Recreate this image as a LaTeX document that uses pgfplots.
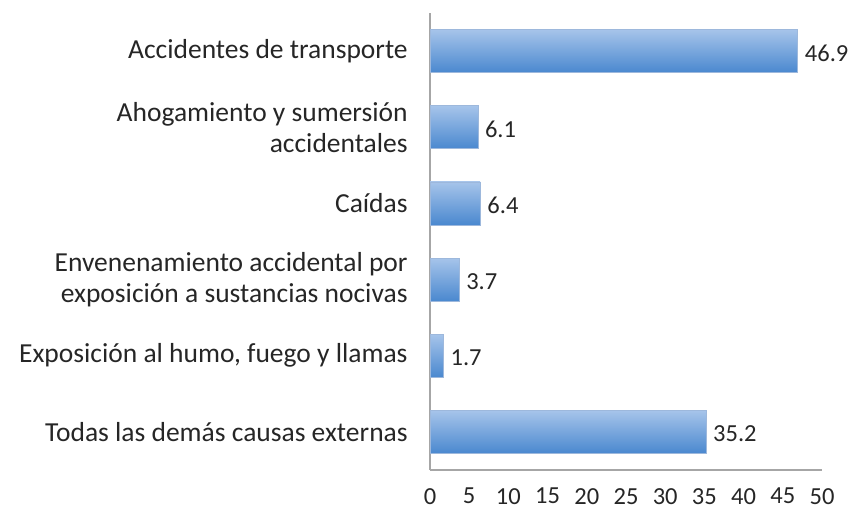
\documentclass[border=0pt]{standalone}
\usepackage{fontspec}
\setmainfont{Carlito}
\usepackage{pgfplots}
\pgfplotsset{compat=1.18}
\definecolor{barTop}{HTML}{A6C4EA}
\definecolor{barBot}{HTML}{4A88CF}
\definecolor{barEdge}{HTML}{9DB8DC}
\definecolor{txt}{HTML}{262626}
\definecolor{axc}{HTML}{A6A6A6}
\pgfplotsset{mybar/.style={draw=barEdge, line width=0.5pt, top color=barTop, bottom color=barBot, bar shift=0pt}}
\begin{document}
\fontsize{27.5}{31}\selectfont
\begin{tikzpicture}
\path[use as bounding box] (0,0) rectangle (851pt,511pt);
\begin{axis}[
  at={(430pt,41pt)}, anchor=south west,
  scale only axis, width=392pt, height=457pt,
  xmin=0, xmax=50, ymin=-0.5, ymax=5.5,
  xtick={0,5,...,50}, ytick={0,1,2,3,4,5},
  yticklabels={Todas las demás causas externas, {Exposición al humo, fuego y llamas}, {Envenenamiento accidental por\\exposición a sustancias nocivas}, Caídas, {Ahogamiento y sumersión\\accidentales}, Accidentes de transporte},
  yticklabel style={align=right, text=txt, font=\fontsize{27.5}{31}\selectfont, xshift=-13pt},
  xticklabel style={text=txt, font=\fontsize{24.5}{28}\selectfont, inner sep=0pt, yshift=-18pt},
  axis x line*=bottom, axis y line*=left,
  axis line style={axc, line width=1.2pt},
  major tick length=0pt,
  xbar, bar width=43pt,
  nodes near coords,
  nodes near coords style={text=txt, anchor=west, inner sep=0pt, xshift=7pt, yshift=-2pt, font=\fontsize{24.5}{28}\selectfont},
  point meta=explicit symbolic,
  /pgf/number format/assume math mode=true,
]
\addplot[mybar] coordinates {(35.2,0)[35.2]};
\addplot[mybar] coordinates {(1.7,1)[1.7]};
\addplot[mybar] coordinates {(3.7,2)[3.7]};
\addplot[mybar] coordinates {(6.4,3)[6.4]};
\addplot[mybar] coordinates {(6.1,4)[6.1]};
\addplot[mybar] coordinates {(46.9,5)[46.9]};
\end{axis}
\end{tikzpicture}
\end{document}
